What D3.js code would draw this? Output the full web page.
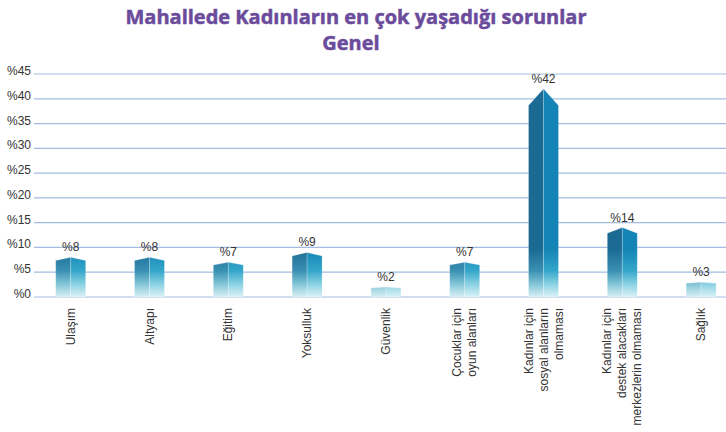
<!DOCTYPE html>
<html>
<head>
<meta charset="utf-8">
<script src="https://cdn.jsdelivr.net/npm/d3@7"></script>
<style>
  body { margin: 0; background: #fff; }
  svg { display: block; }
</style>
</head>
<body>
<div id="chart"></div>
<script>
// data
var categories = [
    ["Ulaşım"],
    ["Altyapı"],
    ["Eğitim"],
    ["Yoksulluk"],
    ["Güvenlik"],
    ["Çocuklar için", "oyun alanları"],
    ["Kadınlar için", "sosyal alanların", "olmaması"],
    ["Kadınlar için", "destek alacakları", "merkezlerin olmaması"],
    ["Sağlık"]
];
var values = [8, 8, 7, 9, 2, 7, 42, 14, 3];
var yTicks = [0, 5, 10, 15, 20, 25, 30, 35, 40, 45];
var titleLines = ["Mahallede Kadınların en çok yaşadığı sorunlar", "Genel"];

const width = 726;
const height = 432;

const svg = d3.select("#chart")
    .append("svg")
    .attr("width", width)
    .attr("height", height);

const keys = categories.map(c => c.join(" "));

const x = d3.scaleBand()
    .domain(keys)
    .range([31.3, 740.5])
    .paddingInner(0.62)
    .paddingOuter(0.31);

const y = d3.scaleLinear()
    .domain([0, 45])
    .range([297, 74]);

// gradients for the two faces of each bar
const defs = svg.append("defs");
function faceGradient(id, stops) {
    const g = defs.append("linearGradient")
        .attr("id", id)
        .attr("gradientUnits", "userSpaceOnUse")
        .attr("x1", 0).attr("x2", 0)
        .attr("y1", y(0) - 48).attr("y2", y(0));
    stops.forEach(s => g.append("stop").attr("offset", s[0]).attr("stop-color", s[1]));
}
faceGradient("gLeft", [[0, "#1b6a93"], [0.45, "#3990b2"], [0.75, "#89c9da"], [1, "#d8eff4"]]);
faceGradient("gRight", [[0, "#1483b5"], [0.45, "#33a6c9"], [0.75, "#90d4e4"], [1, "#dbf2f7"]]);

// title
svg.selectAll(".title")
    .data(titleLines)
    .enter()
    .append("text")
    .attr("class", "title")
    .attr("x", (d, i) => i === 0 ? 356 : 351)
    .attr("y", (d, i) => 24 + i * 26)
    .attr("text-anchor", "middle")
    .style("font-family", "'Open Sans', sans-serif")
    .style("font-weight", "bold")
    .style("font-size", "20px")
    .style("fill", "#6b4b9b")
    .style("stroke", "#6b4b9b")
    .style("stroke-width", 0.5)
    .text(d => d);

// grid
svg.selectAll(".grid")
    .data(yTicks)
    .enter()
    .append("line")
    .attr("class", "grid")
    .attr("x1", 34)
    .attr("x2", width)
    .attr("y1", d => y(d))
    .attr("y2", d => y(d))
    .style("stroke", "#a3bde0")
    .style("stroke-width", 1.2);

svg.selectAll(".ytick")
    .data(yTicks)
    .enter()
    .append("text")
    .attr("class", "ytick")
    .attr("x", 31)
    .attr("y", d => y(d) + 1)
    .attr("text-anchor", "end")
    .style("font-family", "'Liberation Sans', Arial, sans-serif")
    .style("font-size", "12px")
    .style("fill", "#333")
    .text(d => "%" + d);

// bars
const bar = svg.selectAll(".bar")
    .data(values)
    .enter()
    .append("g")
    .attr("class", "bar");

function shape(d, i, side) {
    const x0 = x(keys[i]);
    const w = x.bandwidth();
    const xc = x0 + w / 2;
    const x1 = x0 + w;
    const base = y(0);
    const peak = y(d);
    const roof = (base - peak) * 0.08;
    if (side === "left") {
        return `M${x0},${base}L${x0},${peak + roof}L${xc},${peak}L${xc},${base}Z`;
    }
    return `M${xc},${base}L${xc},${peak}L${x1},${peak + roof}L${x1},${base}Z`;
}

bar.append("path")
    .attr("d", (d, i) => shape(d, i, "left"))
    .style("fill", "url(#gLeft)")
    .style("stroke", "rgba(255,255,255,0.35)")
    .style("stroke-width", 0.6);

bar.append("path")
    .attr("d", (d, i) => shape(d, i, "right"))
    .style("fill", "url(#gRight)")
    .style("stroke", "rgba(255,255,255,0.35)")
    .style("stroke-width", 0.6);

bar.append("text")
    .attr("x", (d, i) => x(keys[i]) + x.bandwidth() / 2)
    .attr("y", d => y(d) - 6)
    .attr("text-anchor", "middle")
    .style("font-family", "'Liberation Sans', Arial, sans-serif")
    .style("font-size", "12px")
    .style("fill", "#333")
    .text(d => "%" + d);

// category labels, rotated
const lab = svg.selectAll(".xlab")
    .data(categories)
    .enter()
    .append("g")
    .attr("class", "xlab")
    .attr("transform", (d, i) => `translate(${x(keys[i]) + x.bandwidth() / 2},308) rotate(-90)`);

lab.selectAll("text")
    .data(d => d.map((t, j) => ({ t: t, j: j, n: d.length })))
    .enter()
    .append("text")
    .attr("x", 0)
    .attr("y", d => (d.j - (d.n - 1) / 2) * 15 + 4)
    .attr("text-anchor", "end")
    .style("font-family", "'Liberation Sans', Arial, sans-serif")
    .style("font-size", "12px")
    .style("fill", "#333")
    .text(d => d.t);
</script>
</body>
</html>
